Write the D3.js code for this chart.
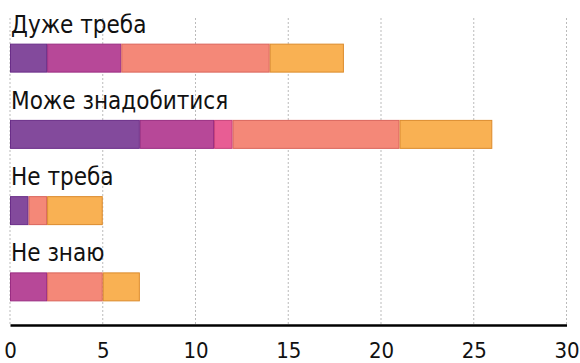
<!DOCTYPE html>
<html>
<head>
<meta charset="utf-8">
<script src="https://cdn.jsdelivr.net/npm/d3@7"></script>
<style>
  html, body { margin: 0; padding: 0; background: #fff; }
  svg { display: block; }
  .cat { font-family: "Liberation Sans Narrow", "DejaVu Sans Condensed", sans-serif; font-size: 24px; fill: #111; }
  .tick text { font-family: "Liberation Sans Narrow", "DejaVu Sans Condensed", sans-serif; font-size: 22px; fill: #111; }
</style>
</head>
<body>
<svg id="chart" width="580" height="363"></svg>
<script>
// Answer categories
const categories = ["Дуже треба", "Може знадобитися", "Не треба", "Не знаю"];
// Stack segments per category (five groups, left to right)
const seriesA = [2, 7, 1, 0];
const seriesB = [4, 4, 0, 2];
const seriesC = [0, 1, 0, 0];
const seriesD = [8, 9, 1, 3];
const seriesE = [4, 5, 3, 2];
const xTicks = [0, 5, 10, 15, 20, 25, 30];

const fills   = ["#834a9c", "#b74898", "#e85d94", "#f48878", "#f9b153"];
const strokes = ["#6a2d88", "#9a2c82", "#c7407a", "#d9645a", "#dc8b2c"];

const seriesKeys = ["a", "b", "c", "d", "e"];
const table = categories.map((c, i) => ({
  cat: c, a: seriesA[i], b: seriesB[i], c: seriesC[i], d: seriesD[i], e: seriesE[i]
}));
const stacked = d3.stack().keys(seriesKeys)(table);

const svg = d3.select("#chart");
const x = d3.scaleLinear().domain([0, 30]).range([10, 566.5]);
const y = d3.scaleBand().domain(categories).range([20, 325]).paddingInner(0.62).paddingOuter(0.31);

// Dotted vertical grid
svg.append("g").selectAll("line").data(xTicks).join("line")
  .attr("x1", d => x(d)).attr("x2", d => x(d))
  .attr("y1", 18).attr("y2", 325)
  .attr("stroke", "#bbb").attr("stroke-width", 1).attr("stroke-dasharray", "2,2");

// Stacked bars
svg.append("g").selectAll("g").data(stacked).join("g")
  .attr("fill", (d, i) => fills[i])
  .attr("stroke", (d, i) => strokes[i])
  .selectAll("rect").data(d => d.filter(s => s[1] - s[0] > 0)).join("rect")
  .attr("x", d => x(d[0]) + 0.5)
  .attr("y", d => y(d.data.cat) + 0.5)
  .attr("width", d => x(d[1]) - x(d[0]) - 1)
  .attr("height", y.bandwidth() - 1)
  .attr("stroke-width", 1);

// Category labels above each bar
svg.append("g").selectAll("text").data(categories).join("text")
  .attr("class", "cat")
  .attr("x", 11)
  .attr("y", d => y(d) - 11)
  .text(d => d);

// Bottom axis
const axis = svg.append("g").attr("transform", "translate(0,325)")
  .call(d3.axisBottom(x).tickValues(xTicks).tickSize(0).tickPadding(17));
axis.select(".domain").attr("stroke", "#000").attr("stroke-width", 2.5);
</script>
</body>
</html>
